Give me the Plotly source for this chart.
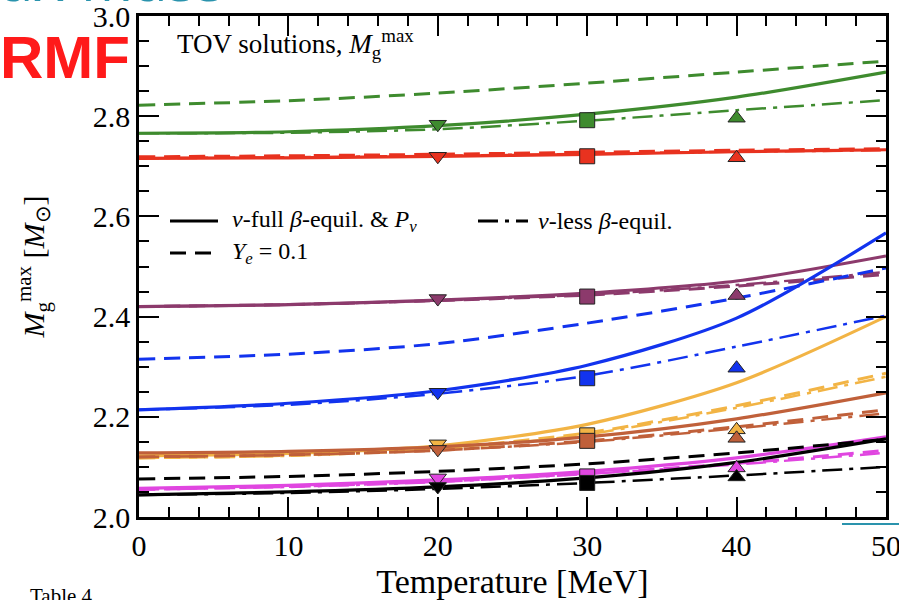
import plotly.graph_objects as go

# ---------------- data ----------------
T = [0, 10, 20, 30, 40, 50]
T_markers = [20, 30, 40]

models = ["green", "red", "purple", "blue", "orange", "brown", "magenta", "black"]
colors = {
    "green": "#3e8b2e", "red": "#e8321f", "purple": "#8c3a6c", "blue": "#1233ee",
    "orange": "#f2b445", "brown": "#c0603a", "magenta": "#e046e0", "black": "#000000",
}

full_beta = {  # solid: nu-full beta-equil & P_nu
    "green":   [2.766, 2.769, 2.781, 2.804, 2.838, 2.888],
    "red":     [2.716, 2.717, 2.720, 2.724, 2.729, 2.733],
    "purple":  [2.420, 2.424, 2.433, 2.447, 2.471, 2.521],
    "blue":    [2.214, 2.227, 2.252, 2.303, 2.397, 2.567],
    "orange":  [2.122, 2.127, 2.142, 2.185, 2.268, 2.400],
    "brown":   [2.128, 2.131, 2.140, 2.160, 2.196, 2.248],
    "magenta": [2.057, 2.063, 2.074, 2.091, 2.118, 2.160],
    "black":   [2.044, 2.050, 2.060, 2.078, 2.109, 2.156],
}
ye01 = {  # dashed: Y_e = 0.1
    "green":   [2.822, 2.831, 2.846, 2.866, 2.888, 2.910],
    "red":     [2.719, 2.721, 2.724, 2.728, 2.732, 2.735],
    "purple":  [2.420, 2.424, 2.432, 2.443, 2.461, 2.484],
    "blue":    [2.315, 2.325, 2.346, 2.387, 2.437, 2.497],
    "orange":  [2.118, 2.123, 2.137, 2.168, 2.222, 2.287],
    "brown":   [2.120, 2.124, 2.133, 2.152, 2.180, 2.214],
    "magenta": [2.055, 2.061, 2.071, 2.087, 2.107, 2.133],
    "black":   [2.076, 2.081, 2.091, 2.106, 2.128, 2.155],
}
less_beta = {  # dash-dot: nu-less beta-equil
    "green":   [2.766, 2.767, 2.774, 2.791, 2.812, 2.832],
    "red":     [2.716, 2.718, 2.721, 2.725, 2.729, 2.732],
    "purple":  [2.420, 2.424, 2.432, 2.444, 2.463, 2.489],
    "blue":    [2.214, 2.224, 2.246, 2.282, 2.340, 2.402],
    "orange":  [2.118, 2.122, 2.135, 2.165, 2.218, 2.280],
    "brown":   [2.120, 2.124, 2.133, 2.150, 2.177, 2.207],
    "magenta": [2.055, 2.060, 2.070, 2.086, 2.105, 2.128],
    "black":   [2.044, 2.048, 2.056, 2.068, 2.083, 2.100],
}
marker_vals = {  # at T = 20 (down-tri), 30 (square), 40 (up-tri)
    "green":   [2.784, 2.792, 2.796],
    "red":     [2.720, 2.720, 2.717],
    "purple":  [2.436, 2.440, 2.442],
    "blue":    [2.249, 2.277, 2.297],
    "orange":  [2.146, 2.163, 2.174],
    "brown":   [2.135, 2.152, 2.157],
    "magenta": [2.078, 2.081, 2.098],
    "black":   [2.061, 2.068, 2.080],
}
marker_symbols = ["triangle-down", "square", "triangle-up"]

SERIF = "Liberation Serif"
DASH = "16px,9px"
DASHDOT = "20px,7px,4px,7px"

fig = go.Figure()
for m in models:
    c = colors[m]
    fig.add_trace(go.Scatter(x=T, y=ye01[m], mode="lines", line=dict(color=c, width=3, dash=DASH, shape="spline", smoothing=0.8), showlegend=False))
    fig.add_trace(go.Scatter(x=T, y=less_beta[m], mode="lines", line=dict(color=c, width=2.5, dash=DASHDOT, shape="spline", smoothing=0.8), showlegend=False))
    fig.add_trace(go.Scatter(x=T, y=full_beta[m], mode="lines", line=dict(color=c, width=3.2, shape="spline", smoothing=0.8), showlegend=False))
for m in models:
    fig.add_trace(go.Scatter(x=T_markers, y=marker_vals[m], mode="markers",
                             marker=dict(symbol=marker_symbols, size=15, color=colors[m],
                                         line=dict(color="#222222", width=1)),
                             showlegend=False))

axis_common = dict(
    showline=True, linecolor="black", linewidth=2.5, mirror="ticks",
    ticks="inside", ticklen=20, tickwidth=2, tickcolor="black",
    showgrid=False, zeroline=False, automargin=False, ticklabeloverflow="allow",
    tickfont=dict(family=SERIF, size=30, color="black"),
)
fig.update_xaxes(range=[0, 50], tick0=0, dtick=10,
                 minor=dict(ticks="inside", ticklen=10, dtick=2, tickwidth=1.5, tickcolor="black", showgrid=False),
                 title=dict(text="Temperature [MeV]", font=dict(family=SERIF, size=34, color="black"), standoff=14),
                 **axis_common)
fig.update_yaxes(range=[2.0, 3.0], tick0=2.0, dtick=0.2, tickformat=".1f",
                 minor=dict(ticks="inside", ticklen=10, dtick=0.05, tickwidth=1.5, tickcolor="black", showgrid=False),
                 title=dict(text="<i>M</i><sub>g</sub><sup>max</sup> [<i>M</i><sub>⊙</sub>]",
                            font=dict(family=SERIF, size=30, color="black"), standoff=40),
                 **axis_common)

# in-plot text
fig.add_annotation(xref="paper", yref="paper", x=0.048, y=0.945, xanchor="left", yanchor="middle",
                   text="TOV solutions, <i>M</i><sub>g</sub><sup>max</sup>", showarrow=False,
                   font=dict(family=SERIF, size=27, color="black"))

# legend (drawn manually); helpers map page pixels to plot-area fractions
def px_x(px):
    return (px - 139) / (886 - 139)

def px_y(py):
    return (517 - py) / (517 - 16)

leg_items = [
    (170, 218, 221, "solid", "<i>ν</i>-full <i>β</i>-equil. &amp; <i>P</i><sub><i>ν</i></sub>", 230),
    (478, 528, 221, DASHDOT, "<i>ν</i>-less <i>β</i>-equil.", 536),
    (170, 215, 253, DASH, "<i>Y</i><sub><i>e</i></sub> = 0.1", 230),
]
for x0, x1, yy, dash, txt, tx in leg_items:
    fig.add_shape(type="line", xref="paper", yref="paper", x0=px_x(x0), x1=px_x(x1), y0=px_y(yy), y1=px_y(yy),
                  line=dict(color="black", width=3, dash=dash))
    fig.add_annotation(xref="paper", yref="paper", x=px_x(tx), y=px_y(yy), xanchor="left", yanchor="middle",
                       text=txt, showarrow=False, font=dict(family=SERIF, size=24, color="black"))

# slide decorations around the chart
fig.add_annotation(xref="paper", yref="paper", x=px_x(-2), y=px_y(57), xanchor="left", yanchor="middle",
                   text="<b>RMF</b>", showarrow=False,
                   font=dict(family="Liberation Sans", size=60, color="#ff1a1a"))
fig.add_annotation(xref="paper", yref="paper", x=px_x(227), y=px_y(21), xanchor="right", yanchor="bottom",
                   text="Max Mass", showarrow=False,
                   font=dict(family="Open Sans", size=60, color="#2a93ad"))
fig.add_annotation(xref="paper", yref="paper", x=px_x(28), y=px_y(596), xanchor="left", yanchor="middle",
                   text="Table 4", showarrow=False,
                   font=dict(family=SERIF, size=21, color="black"))
fig.add_shape(type="line", xref="paper", yref="paper", x0=px_x(842), x1=px_x(899), y0=px_y(524), y1=px_y(524),
              line=dict(color="#2a93ad", width=2))

fig.update_layout(
    width=899, height=600,
    margin=dict(l=139, r=13, t=16, b=83),
    paper_bgcolor="white", plot_bgcolor="white",
    showlegend=False,
)

# remove the default 8px page margin so the figure fills the window exactly
fig.write_html("out.html", config={"displayModeBar": False},
               post_script="document.body.style.margin='0';document.body.style.overflow='hidden';")
